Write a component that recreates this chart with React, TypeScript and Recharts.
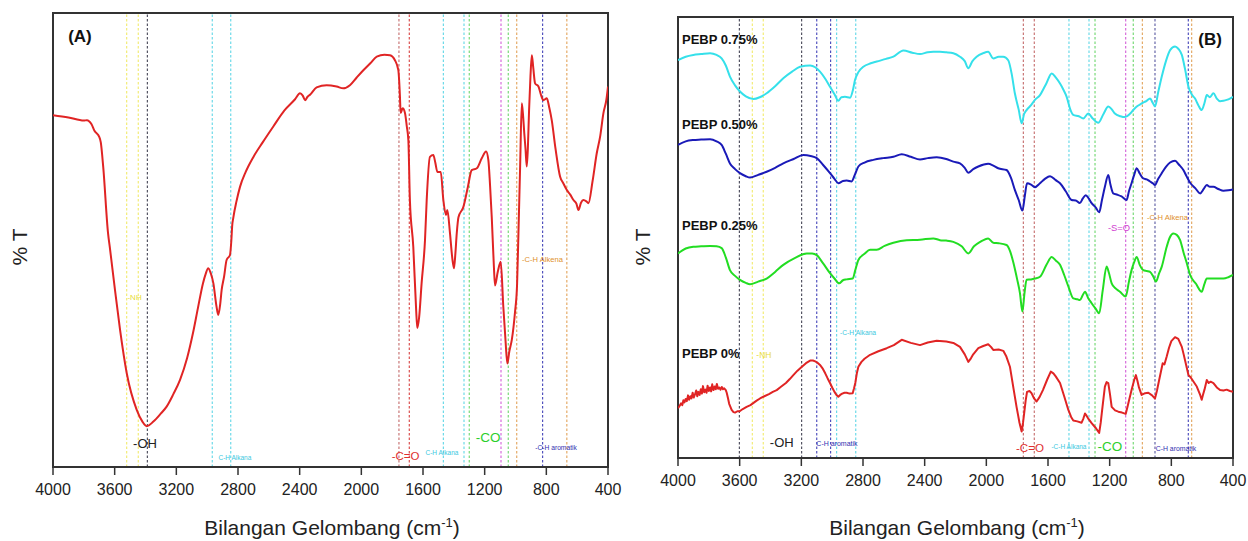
import { LineChart, Line, XAxis, YAxis, ReferenceLine, ReferenceArea, ReferenceDot } from 'recharts'

const FONT = '"Liberation Sans", Arial, Helvetica, sans-serif'
const xTicks = [4000, 3600, 3200, 2800, 2400, 2000, 1600, 1200, 800, 400]

type Pt = [number, number]

// panel A: single spectrum (wavenumber, %T on a 0-100 scale)
const specA: Pt[] = [
  [4000, 77.5], [3900, 77], [3800, 76.3], [3780, 76.4], [3750, 75.5], [3730, 74], [3700, 72.7], [3690, 71.5],
  [3674, 66], [3643, 51.5], [3630, 48], [3598, 39], [3565, 30.2], [3522, 20.7], [3457, 12.6], [3420, 10],
  [3392, 9], [3349, 10], [3300, 11.8], [3263, 13.3], [3220, 16], [3176, 19.2], [3130, 24], [3092, 29.5],
  [3060, 35], [3027, 40.5], [3010, 42.5], [2993, 43.8], [2975, 42.5], [2960, 40.5], [2940, 35.5], [2928, 33.5],
  [2915, 36], [2906, 39], [2890, 42], [2874, 45.6], [2852, 46.7], [2843, 50], [2838, 53], [2830, 55],
  [2810, 58.5], [2787, 61.7], [2750, 65], [2700, 68.3], [2640, 71.5], [2571, 75], [2500, 78.5], [2430, 81],
  [2398, 82.3], [2380, 81.8], [2365, 80.8], [2350, 81.5], [2333, 82], [2290, 83.6], [2225, 84.1], [2160, 83.8],
  [2117, 83.4], [2074, 84.1], [2030, 85.8], [1987, 87.4], [1940, 89], [1900, 90.4], [1850, 90.8], [1814, 90.7],
  [1782, 89.6], [1760, 87.4], [1750, 82], [1745, 78], [1732, 79], [1717, 78], [1705, 75], [1695, 72],
  [1685, 58.8], [1663, 48.5], [1645, 35], [1637, 30.6], [1625, 33], [1609, 40.5], [1587, 50], [1576, 58.8],
  [1555, 68.3], [1533, 68.7], [1520, 67], [1507, 65], [1485, 65], [1468, 58.8], [1451, 55.5], [1442, 56.6],
  [1425, 51.5], [1410, 46], [1399, 43.8], [1390, 47], [1381, 51.5], [1370, 55], [1338, 57.3], [1310, 61.5],
  [1284, 65.4], [1251, 65.8], [1219, 68], [1191, 69.5], [1176, 67.6], [1165, 62], [1154, 55], [1140, 44],
  [1133, 40], [1115, 43], [1096, 45.2], [1079, 35.3], [1065, 28], [1053, 22.8], [1040, 25.5], [1024, 28],
  [1003, 34.2], [990, 40], [981, 51.4], [970, 66.2], [959, 80.1], [950, 77], [943, 73.5], [935, 70],
  [927, 66.2], [920, 70], [912, 78.6], [903, 86], [894, 90.7], [885, 88], [873, 84.5], [851, 83.8],
  [835, 82], [819, 80.8], [797, 81.2], [780, 79], [765, 76.4], [740, 70], [711, 64], [690, 62.5],
  [667, 61], [645, 60], [624, 58.8], [605, 58], [592, 56.6], [575, 58.2], [560, 58.8], [540, 58.5],
  [527, 58.1], [500, 63], [473, 69.1], [450, 73], [430, 77.9], [410, 81], [400, 83.8],
]

// panel B: four stacked spectra
const pebp075: Pt[] = [
  [4000, 90.2], [3950, 91], [3901, 91.4], [3850, 91.6], [3792, 91.8], [3750, 91.4], [3717, 90.6], [3690, 89],
  [3663, 86.5], [3630, 84.5], [3598, 83.1], [3560, 82], [3511, 81.4], [3470, 81.8], [3425, 82.7], [3370, 84.3],
  [3317, 86.1], [3260, 87.6], [3208, 88.7], [3143, 89], [3110, 88.6], [3079, 87.6], [3045, 86], [3014, 84.2],
  [2985, 82.5], [2960, 81], [2940, 81.8], [2917, 81.9], [2884, 81.7], [2865, 83.5], [2852, 85.7], [2830, 87.5],
  [2798, 88.7], [2750, 89.5], [2711, 89.9], [2650, 90.5], [2603, 91], [2538, 92.4], [2480, 91.9], [2430, 91.6],
  [2380, 92], [2344, 92.1], [2301, 92.1], [2260, 92], [2214, 91.8], [2171, 91], [2140, 90], [2117, 88.4],
  [2090, 90], [2063, 91], [2020, 91.8], [1988, 92.1], [1955, 90.6], [1920, 91], [1890, 91], [1858, 90.2],
  [1835, 87], [1815, 82.7], [1790, 79], [1771, 75.9], [1755, 78], [1739, 78.9], [1710, 80], [1685, 81.2],
  [1652, 82.3], [1610, 85], [1576, 87.2], [1550, 86.3], [1522, 84.9], [1500, 83.5], [1479, 81.9], [1455, 79],
  [1436, 77.8], [1400, 77.5], [1371, 77], [1339, 78.1], [1310, 77], [1274, 76], [1240, 78], [1209, 79.7],
  [1185, 79], [1166, 78.1], [1130, 77.5], [1101, 77.3], [1070, 78], [1047, 78.9], [1020, 79.8], [992, 80.4],
  [960, 81], [938, 81.5], [920, 80.5], [906, 79.7], [885, 83], [862, 86.5], [835, 90], [808, 92.5],
  [776, 93.3], [755, 92.8], [732, 91.4], [710, 88], [689, 84.2], [665, 82.3], [646, 81.5], [625, 80],
  [603, 78.9], [585, 80.5], [570, 82.3], [550, 81.8], [527, 82.7], [505, 81.5], [484, 80.9], [462, 81],
  [441, 81.2], [420, 81.5], [400, 81.9],
]

const pebp050: Pt[] = [
  [4000, 71], [3950, 71.8], [3901, 72.1], [3850, 72.2], [3792, 72.3], [3750, 71.8], [3717, 71], [3690, 69],
  [3663, 66.8], [3630, 65.5], [3598, 64.6], [3560, 63.9], [3533, 63.6], [3480, 64.2], [3425, 64.9], [3370, 65.8],
  [3317, 66.8], [3250, 67.8], [3187, 68.7], [3140, 68.5], [3100, 68], [3060, 66.5], [3014, 64.6], [2985, 63.3],
  [2960, 62.3], [2930, 62.8], [2906, 62.9], [2874, 62.7], [2850, 64.5], [2830, 66.1], [2790, 67], [2733, 67.6],
  [2670, 68], [2603, 68.3], [2549, 68.9], [2490, 68.3], [2430, 67.7], [2380, 68], [2322, 68.2], [2260, 67.8],
  [2214, 67.2], [2171, 66.8], [2140, 65.8], [2117, 64.7], [2085, 65.5], [2052, 66.1], [1988, 66.7], [1955, 66.3],
  [1923, 65.7], [1869, 65.3], [1840, 63.5], [1815, 60.8], [1790, 58.5], [1766, 56.1], [1750, 59.5], [1736, 62.3],
  [1710, 62], [1685, 61.4], [1652, 62.3], [1620, 63.3], [1587, 63.9], [1550, 63], [1522, 62.3], [1485, 60.5],
  [1447, 58.5], [1420, 58.4], [1393, 57.8], [1375, 58.8], [1355, 59.6], [1335, 58.8], [1317, 57.8], [1290, 56.8],
  [1268, 55.7], [1250, 58.5], [1231, 61.5], [1209, 64.2], [1195, 62], [1177, 60], [1150, 59.7], [1123, 59.3],
  [1090, 58.5], [1075, 60.5], [1058, 62.3], [1040, 64.3], [1025, 65.7], [1005, 64.5], [982, 63.4], [960, 63.2],
  [938, 62.7], [920, 62.3], [906, 61.9], [885, 63.3], [862, 64.6], [835, 66], [808, 67], [776, 67.4],
  [750, 66.5], [722, 65.3], [700, 63.8], [678, 62.4], [645, 61.2], [613, 60], [590, 61], [570, 61.9],
  [550, 61.5], [527, 61.5], [495, 61], [462, 60.6], [430, 60.7], [400, 60.9],
]

const pebp025: Pt[] = [
  [4000, 46.4], [3950, 47.5], [3901, 47.9], [3850, 48], [3792, 48.1], [3750, 48], [3717, 47.6], [3690, 45.5],
  [3663, 42.6], [3630, 41.3], [3598, 40.4], [3560, 39.7], [3533, 39.4], [3480, 40], [3425, 40.7], [3370, 42.2],
  [3317, 43.8], [3240, 45.4], [3165, 46.4], [3130, 46.4], [3100, 46], [3060, 44.2], [3014, 41.9], [2985, 40.7],
  [2955, 39.6], [2930, 40.3], [2906, 40.5], [2867, 40.7], [2850, 42.6], [2830, 44.9], [2790, 46.3], [2754, 47.2],
  [2711, 47.2], [2660, 48.1], [2603, 48.8], [2517, 49.4], [2430, 49.5], [2344, 49.8], [2301, 49.4], [2260, 49.3],
  [2214, 49], [2160, 48], [2117, 46.4], [2080, 48], [2040, 49], [1988, 49.8], [1955, 48.8], [1920, 48.7],
  [1869, 48.3], [1845, 46.8], [1826, 44.5], [1800, 40.5], [1782, 37.4], [1766, 33.2], [1752, 37.5], [1739, 40.4],
  [1710, 40.5], [1685, 40.7], [1652, 41.1], [1610, 43.8], [1576, 45.6], [1550, 44.8], [1522, 43.8], [1495, 41.5],
  [1468, 38.9], [1436, 36.2], [1410, 36], [1393, 35.8], [1375, 36.9], [1360, 37.7], [1340, 36.3], [1317, 35.1],
  [1290, 33.8], [1268, 32.8], [1245, 38], [1220, 43.4], [1205, 42], [1187, 39.6], [1160, 38.4], [1133, 37.7],
  [1096, 36.6], [1075, 40], [1058, 42.6], [1040, 44.5], [1025, 45.6], [1005, 43.8], [982, 42.6], [960, 42.4],
  [938, 42.2], [915, 41], [900, 40], [880, 41.8], [862, 43.4], [830, 47.9], [810, 50], [787, 50.9],
  [765, 50.6], [743, 49.4], [720, 46.5], [700, 44.2], [678, 41.5], [640, 39.5], [603, 37.7], [585, 39.5],
  [570, 40.7], [527, 40.7], [462, 40.7], [430, 41], [400, 41.5],
]

const pebp0: Pt[] = [
  [4000, 11.3], [3990, 11.8], [3980, 12.4], [3972, 12], [3965, 13.1], [3958, 12.6], [3950, 13.4], [3943, 12.9],
  [3935, 14.2], [3928, 13.2], [3920, 14], [3913, 13.5], [3905, 14.8], [3898, 13.7], [3890, 14.4], [3882, 15.3],
  [3875, 14], [3868, 15], [3860, 14.3], [3852, 15.6], [3845, 14.6], [3838, 16.3], [3830, 14.9], [3822, 15.5],
  [3815, 14.8], [3808, 16.4], [3800, 15.2], [3792, 16], [3785, 15.1], [3778, 16.7], [3770, 15.4], [3762, 16.2],
  [3755, 15.6], [3748, 16.8], [3740, 15.7], [3732, 16], [3724, 15.5], [3716, 16.1], [3708, 15.6], [3700, 15.8],
  [3690, 15.4], [3684, 14.8], [3676, 13.6], [3668, 12.3], [3652, 10.9], [3640, 10.4], [3630, 10.3], [3615, 10.6],
  [3600, 10.6], [3580, 11.1], [3555, 11.6], [3530, 12], [3510, 12.5], [3490, 13], [3468, 13.5], [3440, 14],
  [3410, 14.5], [3385, 15], [3360, 15.4], [3330, 16.2], [3300, 17], [3275, 17.9], [3252, 18.8], [3225, 19.8],
  [3200, 20.6], [3170, 21.5], [3143, 22.1], [3125, 22.1], [3110, 21.9], [3095, 21.6], [3079, 21.1], [3060, 20.2],
  [3045, 19.2], [3030, 18.1], [3014, 17], [3000, 16], [2985, 15], [2972, 14.3], [2960, 13.9], [2948, 14.3],
  [2935, 14.6], [2920, 14.8], [2906, 14.8], [2887, 14.6], [2867, 14.7], [2858, 15.8], [2850, 17], [2840, 19.2],
  [2830, 20.7], [2810, 21.8], [2790, 22.5], [2754, 23.4], [2700, 24.2], [2646, 24.9], [2600, 25.6], [2549, 26.8],
  [2490, 26.1], [2430, 25.6], [2380, 26.2], [2322, 26.6], [2260, 26.4], [2214, 26.1], [2171, 25.2], [2140, 23.5],
  [2117, 21.8], [2100, 22.6], [2085, 23.5], [2052, 24.9], [2020, 25.4], [1988, 25.8], [1970, 25.2], [1955, 24.5],
  [1920, 24.6], [1890, 24.3], [1870, 23], [1847, 20.7], [1825, 16], [1804, 11.6], [1785, 8], [1771, 6],
  [1762, 8], [1755, 10], [1745, 13], [1736, 15], [1720, 15.2], [1707, 14.7], [1690, 13.5], [1674, 12.8],
  [1655, 13.8], [1633, 15.4], [1605, 17.8], [1582, 19.6], [1565, 19.2], [1550, 18.5], [1522, 17], [1495, 14],
  [1468, 10.9], [1450, 9.3], [1436, 8.5], [1410, 8.3], [1382, 8], [1370, 9], [1360, 10.1], [1350, 9.6],
  [1340, 9], [1317, 7.9], [1290, 6.8], [1268, 5.7], [1258, 8], [1250, 10.5], [1240, 13.5], [1231, 16.2],
  [1220, 17.2], [1209, 17], [1198, 14.5], [1187, 11.6], [1165, 10.8], [1144, 10.5], [1120, 10.3], [1096, 10],
  [1085, 11.5], [1075, 13], [1058, 15.4], [1040, 17.8], [1030, 18.8], [1020, 17.5], [1010, 16], [993, 14.3],
  [970, 14.7], [949, 14.8], [925, 14.2], [906, 13.5], [893, 15.3], [880, 17.5], [856, 21.5], [845, 21.2],
  [830, 23], [815, 25], [800, 26.5], [776, 27.4], [755, 27], [732, 25.2], [720, 23.5], [710, 22],
  [689, 18.8], [675, 18.3], [660, 17.5], [635, 16.2], [615, 14.5], [603, 13.2], [595, 14.3], [585, 15.5],
  [570, 17.7], [558, 17], [545, 17.3], [527, 17], [505, 16], [484, 15.4], [462, 15.3], [441, 15.5],
  [420, 15.2], [400, 15],
]

const YELLOW = '#f2ea6a'
const DARK = '#444455'
const CYAN = '#5fd6e6'
const BROWN = '#c46a6a'
const RED = '#d84040'
const GREEN = '#6cd66c'
const MAGENTA = '#d35fd8'
const ORANGE = '#e2a35a'
const BLUE = '#4343b8'
const SLATE = '#5858a0'

interface Mark { wn: number; color: string }
interface Note { wn: number; t: number; text: string; color: string; size: number; bold?: boolean; anchor?: 'start' | 'middle' }
interface Series { name: string; pts: Pt[]; color: string; curve: 'monotone' | 'linear' }

const marksA: Mark[] = [
  { wn: 3522, color: YELLOW }, { wn: 3447, color: YELLOW }, { wn: 3388, color: DARK },
  { wn: 2967, color: CYAN }, { wn: 2847, color: CYAN }, { wn: 1756, color: BROWN }, { wn: 1689, color: RED },
  { wn: 1468, color: CYAN }, { wn: 1334, color: CYAN }, { wn: 1300, color: GREEN }, { wn: 1094, color: MAGENTA },
  { wn: 1047, color: GREEN }, { wn: 992, color: ORANGE }, { wn: 824, color: BLUE }, { wn: 667, color: ORANGE },
]

const marksB: Mark[] = [
  { wn: 3602, color: DARK }, { wn: 3518, color: YELLOW }, { wn: 3447, color: YELLOW }, { wn: 3198, color: DARK },
  { wn: 3100, color: BLUE }, { wn: 3010, color: BLUE }, { wn: 2971, color: CYAN }, { wn: 2847, color: CYAN },
  { wn: 1760, color: BROWN }, { wn: 1689, color: BROWN }, { wn: 1464, color: CYAN }, { wn: 1334, color: CYAN },
  { wn: 1295, color: GREEN }, { wn: 1096, color: MAGENTA }, { wn: 1047, color: GREEN }, { wn: 988, color: ORANGE },
  { wn: 906, color: SLATE }, { wn: 690, color: BLUE }, { wn: 668, color: ORANGE },
]

const notesA: Note[] = [
  { wn: 3825, t: 94.9, text: '(A)', color: '#111', size: 17, bold: true },
  { wn: 3471, t: 37.4, text: '-NH', color: '#e8dc3a', size: 8 },
  { wn: 3403, t: 5.1, text: '-OH', color: '#222', size: 13 },
  { wn: 2820, t: 2.2, text: 'C-H Alkana', color: '#3cc8e0', size: 6.5 },
  { wn: 1713, t: 2.4, text: '-C=O', color: '#e03030', size: 11.5 },
  { wn: 1477, t: 3.1, text: 'C-H Alkana', color: '#3cc8e0', size: 6.5 },
  { wn: 1178, t: 6.4, text: '-CO', color: '#2ccf2c', size: 13.5 },
  { wn: 737, t: 4.4, text: '-C-H aromatik', color: '#3030b0', size: 6.7 },
  { wn: 825, t: 45.6, text: '-C-H Alkena', color: '#e08f2a', size: 7.6 },
]

const notesB: Note[] = [
  { wn: 549, t: 94.8, text: '(B)', color: '#111', size: 17, bold: true },
  { wn: 3974, t: 94.9, text: 'PEBP 0.75%', color: '#111', size: 13, bold: true, anchor: 'start' },
  { wn: 3974, t: 75.7, text: 'PEBP 0.50%', color: '#111', size: 13, bold: true, anchor: 'start' },
  { wn: 3974, t: 52.8, text: 'PEBP 0.25%', color: '#111', size: 13, bold: true, anchor: 'start' },
  { wn: 3974, t: 23.6, text: 'PEBP 0%', color: '#111', size: 13, bold: true, anchor: 'start' },
  { wn: 3443, t: 23.4, text: '-NH', color: '#e8dc3a', size: 8.5 },
  { wn: 3327, t: 3.6, text: '-OH', color: '#222', size: 13 },
  { wn: 2969, t: 3.4, text: 'C-H aromatik', color: '#3030b0', size: 7 },
  { wn: 2832, t: 28.4, text: '-C-H Alkana', color: '#3cc8e0', size: 6.7 },
  { wn: 1139, t: 52.2, text: '-S=O', color: '#d040d0', size: 9.4 },
  { wn: 825, t: 54.6, text: '-C-H Alkena', color: '#e08f2a', size: 7.6 },
  { wn: 1717, t: 2.4, text: '-C=O', color: '#e03030', size: 11.6 },
  { wn: 1464, t: 2.7, text: '-C-H Alkana', color: '#3cc8e0', size: 6.5 },
  { wn: 1198, t: 2.5, text: '-CO', color: '#2ccf2c', size: 13.5 },
  { wn: 770, t: 2.2, text: 'C-H aromatik', color: '#3030b0', size: 6.9 },
]

const seriesA: Series[] = [{ name: 'sampel', pts: specA, color: '#e02424', curve: 'monotone' }]
const seriesB: Series[] = [
  { name: 'PEBP 0.75%', pts: pebp075, color: '#35e0ea', curve: 'monotone' },
  { name: 'PEBP 0.50%', pts: pebp050, color: '#1a1ab8', curve: 'monotone' },
  { name: 'PEBP 0.25%', pts: pebp025, color: '#22dd22', curve: 'monotone' },
  { name: 'PEBP 0%', pts: pebp0, color: '#e02424', curve: 'linear' },
]

const toRows = (pts: Pt[]) => pts.map(([wn, t]) => ({ wn, t }))

interface PanelProps {
  width: number
  margin: { top: number; right: number; bottom: number; left: number }
  series: Series[]
  marks: Mark[]
  notes: Note[]
}

function Panel({ width, margin, series, marks, notes }: PanelProps) {
  return (
    <LineChart width={width} height={541} margin={margin}>
      <XAxis
        type="number"
        dataKey="wn"
        domain={[400, 4000]}
        reversed
        allowDataOverflow
        ticks={xTicks}
        interval={0}
        height={30}
        tickSize={8}
        tickMargin={9}
        axisLine={{ stroke: '#333', strokeWidth: 2 }}
        tickLine={{ stroke: '#333', strokeWidth: 1.5 }}
        tick={{ fill: '#222', fontSize: 16, fontFamily: FONT }}
      />
      <YAxis type="number" domain={[0, 100]} hide allowDataOverflow />
      <ReferenceArea x1={4000} x2={400} y1={0} y2={100} fill="none" stroke="#333" strokeWidth={2} />
      {marks.map((m, i) => (
        <ReferenceLine key={'m' + i} x={m.wn} stroke={m.color} strokeDasharray="2.5 2" strokeWidth={1.1} />
      ))}
      {series.map((s) => (
        <Line
          key={s.name}
          name={s.name}
          data={toRows(s.pts)}
          dataKey="t"
          type={s.curve}
          stroke={s.color}
          strokeWidth={2}
          strokeLinejoin="round"
          dot={false}
          activeDot={false}
          isAnimationActive={false}
        />
      ))}
      {notes.map((n, i) => (
        <ReferenceDot
          key={'n' + i}
          x={n.wn}
          y={n.t}
          r={2}
          shape={(p: any) => (
            <text
              x={p.cx}
              y={p.cy}
              fill={n.color}
              fontSize={n.size}
              fontWeight={n.bold ? 700 : 400}
              fontFamily={FONT}
              textAnchor={n.anchor ?? 'middle'}
              dominantBaseline="central"
            >
              {n.text}
            </text>
          )}
        />
      ))}
    </LineChart>
  )
}

const titleStyle: React.CSSProperties = {
  position: 'absolute',
  transform: 'translate(-50%, -50%)',
  whiteSpace: 'nowrap',
  fontFamily: FONT,
  fontSize: 21,
  color: '#222',
}

function XTitle({ left }: { left: number }) {
  return (
    <div style={{ ...titleStyle, left, top: 527 }}>
      Bilangan Gelombang (cm<sup style={{ fontSize: 13 }}>-1</sup>)
    </div>
  )
}

function YTitle({ left }: { left: number }) {
  return (
    <div style={{ ...titleStyle, left, top: 247, transform: 'translate(-50%, -50%) rotate(-90deg)' }}>% T</div>
  )
}

export default function App() {
  return (
    <div style={{ position: 'absolute', left: 0, top: 0, width: 1248, height: 541, background: '#fff' }}>
      <div style={{ position: 'absolute', left: 0, top: 0 }}>
        <Panel width={640} margin={{ top: 13, right: 32, bottom: 44, left: 53 }} series={seriesA} marks={marksA} notes={notesA} />
      </div>
      <div style={{ position: 'absolute', left: 640, top: 0 }}>
        <Panel width={608} margin={{ top: 17, right: 15, bottom: 53, left: 38 }} series={seriesB} marks={marksB} notes={notesB} />
      </div>
      <YTitle left={20} />
      <YTitle left={643} />
      <XTitle left={332} />
      <XTitle left={957} />
    </div>
  )
}
